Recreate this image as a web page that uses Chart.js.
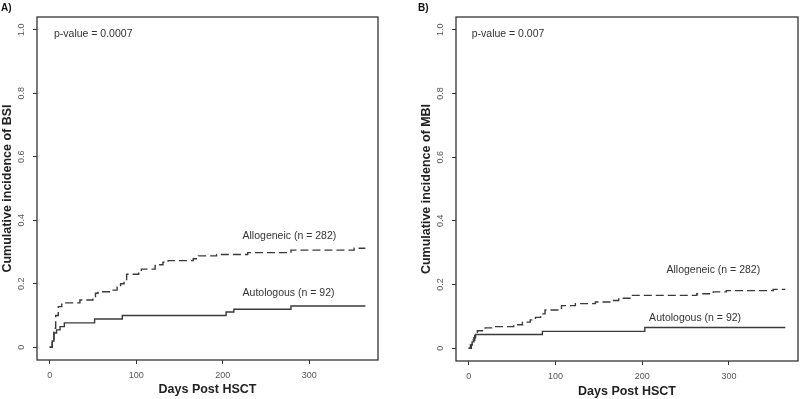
<!DOCTYPE html>
<html>
<head>
<meta charset="utf-8">
<script src="https://cdn.jsdelivr.net/npm/chart.js@4"></script>
<style>
  body { margin: 0; background: #fff; }
  .panel { position: absolute; top: 0; }
</style>
</head>
<body>
<canvas id="chartA" class="panel" width="400" height="399" style="left:0"></canvas>
<canvas id="chartB" class="panel" width="400" height="399" style="left:400px"></canvas>
<script>
// tick labels
const xTicks = [0, 100, 200, 300];
const yTicks = [0, 0.2, 0.4, 0.6, 0.8, 1.0];

// A) BSI
const bsiAlloDays = [0, 3, 5, 7, 10, 14, 35, 50, 53, 56, 72, 78, 82, 86, 89, 103, 106, 122, 131, 137, 166, 172, 193, 229, 279, 352, 365];
const bsiAlloVals = [0, 0.02, 0.06, 0.1, 0.128, 0.14, 0.149, 0.16, 0.17, 0.175, 0.18, 0.19, 0.2, 0.21, 0.23, 0.24, 0.246, 0.26, 0.268, 0.273, 0.279, 0.288, 0.292, 0.298, 0.306, 0.312, 0.312];
const bsiAutoDays = [0, 3, 5, 8, 12, 17, 52, 84, 204, 213, 279, 365];
const bsiAutoVals = [0, 0.02, 0.045, 0.055, 0.065, 0.077, 0.089, 0.1, 0.111, 0.12, 0.13, 0.13];

// B) MBI
const mbiAlloDays = [0, 3, 5, 7, 10, 19, 30, 52, 62, 71, 77, 83, 88, 107, 123, 146, 165, 173, 188, 263, 282, 297, 351, 365];
const mbiAlloVals = [0, 0.012, 0.025, 0.04, 0.055, 0.064, 0.068, 0.074, 0.082, 0.089, 0.097, 0.108, 0.12, 0.134, 0.14, 0.145, 0.15, 0.157, 0.166, 0.171, 0.177, 0.181, 0.185, 0.185];
const mbiAutoDays = [0, 2, 4, 6, 8, 85, 203, 365];
const mbiAutoVals = [0, 0.01, 0.02, 0.033, 0.043, 0.053, 0.065, 0.065];

const textColor = '#333';
const lineColor = '#3a3a3a';

function toPoints(days, vals) {
  return days.map((d, i) => ({ x: d, y: vals[i] }));
}

// box round the plot + free text
const boxPlugin = {
  id: 'boxText',
  afterDraw(chart, args, o) {
    const { ctx, chartArea: a, scales } = chart;
    ctx.save();
    ctx.strokeStyle = '#333';
    ctx.lineWidth = 1.3;
    ctx.strokeRect(a.left, a.top, a.right - a.left, a.bottom - a.top);

    ctx.fillStyle = '#111';
    ctx.font = 'bold 10px "Liberation Sans", Arial, sans-serif';
    ctx.textBaseline = 'middle';
    ctx.textAlign = 'left';
    ctx.fillText(o.panel, o.panelX, 8);

    ctx.fillStyle = textColor;
    ctx.font = '10.5px "Liberation Sans", Arial, sans-serif';
    o.notes.forEach(n => {
      ctx.fillText(n.text, scales.x.getPixelForValue(n.x), scales.y.getPixelForValue(n.y));
    });
    ctx.restore();
  }
};

function makeChart(id, cfg) {
  const ctx = document.getElementById(id).getContext('2d');
  return new Chart(ctx, {
    type: 'line',
    data: {
      datasets: [
        {
          label: 'Allogeneic',
          data: toPoints(cfg.alloDays, cfg.alloVals),
          borderColor: lineColor,
          borderWidth: 1.4,
          borderDash: [8, 4],
          pointRadius: 0,
          stepped: true,
          fill: false
        },
        {
          label: 'Autologous',
          data: toPoints(cfg.autoDays, cfg.autoVals),
          borderColor: lineColor,
          borderWidth: 1.4,
          pointRadius: 0,
          stepped: true,
          fill: false
        }
      ]
    },
    options: {
      responsive: false,
      animation: false,
      layout: { padding: cfg.padding },
      plugins: {
        legend: { display: false },
        tooltip: { enabled: false },
        boxText: { panel: cfg.panel, panelX: cfg.panelX, notes: cfg.notes }
      },
      scales: {
        x: {
          type: 'linear',
          min: -14.6,
          max: 379.6,
          afterBuildTicks: s => { s.ticks = xTicks.map(v => ({ value: v })); },
          afterFit: s => { s.height = cfg.xHeight; },
          grid: { drawOnChartArea: false, drawTicks: true, tickLength: 4, color: '#333', lineWidth: 1 },
          border: { display: false },
          ticks: {
            color: '#555',
            font: { size: 9, family: '"Liberation Sans", Arial, sans-serif' },
            padding: 6,
            maxRotation: 0
          },
          title: {
            display: true,
            text: 'Days Post HSCT',
            color: '#222',
            font: { size: 12.5, weight: 'bold', family: '"Liberation Sans", Arial, sans-serif' },
            padding: { top: 0, bottom: cfg.xTitlePad }
          }
        },
        y: {
          min: -0.04,
          max: 1.04,
          afterBuildTicks: s => { s.ticks = yTicks.map(v => ({ value: v })); },
          afterFit: s => { s.width = cfg.yWidth; },
          grid: { drawOnChartArea: false, drawTicks: true, tickLength: 4, color: '#333', lineWidth: 1 },
          border: { display: false },
          ticks: {
            color: '#555',
            font: { size: 9, family: '"Liberation Sans", Arial, sans-serif' },
            minRotation: 90,
            maxRotation: 90,
            crossAlign: 'center',
            padding: 5.5,
            callback: v => v === 0 ? '0' : v.toFixed(1)
          },
          title: {
            display: true,
            text: cfg.yTitle,
            color: '#222',
            font: { size: 12.5, weight: 'bold', family: '"Liberation Sans", Arial, sans-serif' },
            padding: { top: cfg.yTitlePad, bottom: 0 }
          }
        }
      }
    },
    plugins: [boxPlugin]
  });
}

window.addEventListener('DOMContentLoaded', () => {
  makeChart('chartA', {
    alloDays: bsiAlloDays, alloVals: bsiAlloVals,
    autoDays: bsiAutoDays, autoVals: bsiAutoVals,
    yTitle: 'Cumulative incidence of BSI',
    padding: { top: 17, right: 22, left: 0, bottom: 0 },
    yWidth: 37, xHeight: 39, yTitlePad: 0, xTitlePad: 1.5,
    panel: 'A)', panelX: 1,
    notes: [
      { text: 'p-value = 0.0007', x: 5, y: 0.987 },
      { text: 'Allogeneic (n = 282)', x: 223, y: 0.35 },
      { text: 'Autologous (n = 92)', x: 223, y: 0.17 }
    ]
  });
  makeChart('chartB', {
    alloDays: mbiAlloDays, alloVals: mbiAlloVals,
    autoDays: mbiAutoDays, autoVals: mbiAutoVals,
    yTitle: 'Cumulative incidence of MBI',
    padding: { top: 17, right: 2, left: 0, bottom: 0 },
    yWidth: 56, xHeight: 38, yTitlePad: 19.5, xTitlePad: 0,
    panel: 'B)', panelX: 18,
    notes: [
      { text: 'p-value = 0.007', x: 3.5, y: 0.987 },
      { text: 'Allogeneic (n = 282)', x: 228, y: 0.245 },
      { text: 'Autologous (n = 92)', x: 208, y: 0.095 }
    ]
  });
});
</script>
</body>
</html>
